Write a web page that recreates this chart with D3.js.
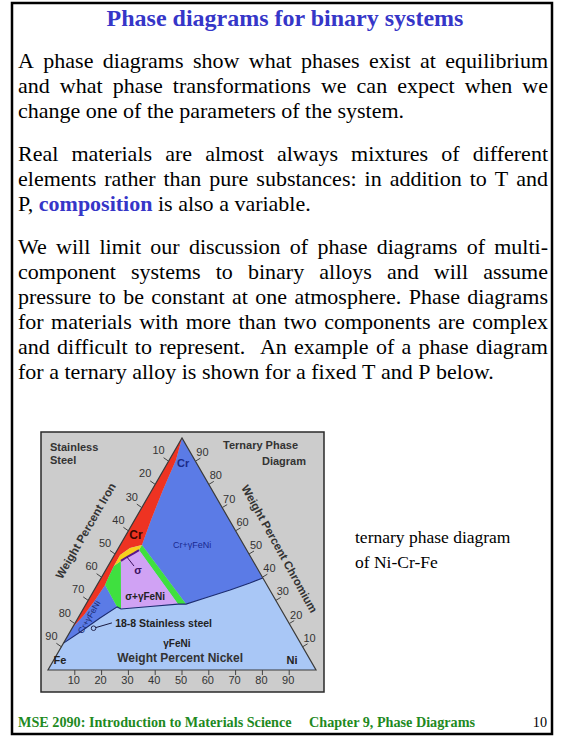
<!DOCTYPE html>
<html><head><meta charset="utf-8">
<script src="https://cdn.jsdelivr.net/npm/d3@7"></script>
<style>html,body{margin:0;padding:0;background:#fff;} svg{display:block;}</style>
</head><body>
<svg id="c" width="563" height="738"></svg>
<script>
// ---------------- slide text ----------------
const titleText = "Phase diagrams for binary systems";
const paragraphs = [
 ["A phase diagrams show what phases exist at equilibrium",
  "and what phase transformations we can expect when we",
  "change one of the parameters of the system."],
 ["Real materials are almost always mixtures of different",
  "elements rather than pure substances: in addition to T and",
  "P, *composition* is also a variable."],
 ["We will limit our discussion of phase diagrams of multi-",
  "component systems to binary alloys and will assume",
  "pressure to be constant at one atmosphere. Phase diagrams",
  "for materials with more than two components are complex",
  "and difficult to represent.  An example of a phase diagram",
  "for a ternary alloy is shown for a fixed T and P below."]
];
const caption = ["ternary phase diagram", "of Ni-Cr-Fe"];
const footerLeft = "MSE 2090: Introduction to Materials Science";
const footerMid = "Chapter 9, Phase Diagrams";
const footerPage = "10";

// ---------------- ternary diagram data: [Ni wt%, Cr wt%] ----------------
const tickValues = [10, 20, 30, 40, 50, 60, 70, 80, 90];
const axisTitles = ["Weight Percent Iron", "Weight Percent Chromium", "Weight Percent Nickel"];
const cornerLabels = ["Fe", "Ni", "Cr"];
const boxTitlesLeft = ["Stainless", "Steel"];
const boxTitlesRight = ["Ternary Phase", "Diagram"];

const regionRedCr = [[0,100],[0,18.1],[0.5,19.8],[1.6,23.7],[2.5,30.2],[3.0,36.6],[2.6,39.7],[2.2,44.8],[2.1,49.6],[4.3,52.6],[8.1,53.9],[6.1,64.7],[4.1,77.6],[2.5,90.5]];
const regionCrGamma = [[0,100],[60.3,39.7],[56.6,37.5],[50.7,34.5],[43.1,31.0],[37.3,28.4],[8.1,53.9],[6.1,64.7],[4.1,77.6],[2.5,90.5]];
const regionGreenRight = [[8.1,53.9],[37.3,28.4],[34.3,28.4],[8.1,51.7]];
const regionSigmaGamma = [[8.1,51.7],[34.3,28.4],[24.4,27.4],[14.1,26.3],[3.7,47.0],[5.1,48.7],[6.9,50.4]];
const regionYellow = [[8.1,53.9],[4.3,52.6],[2.1,49.6],[2.2,44.8],[3.7,47.0],[5.1,48.7],[6.9,50.4],[8.1,51.7]];
const regionGreenLeft = [[2.2,44.8],[3.7,47.0],[14.1,26.3],[12.2,27.2],[3.0,36.6],[2.6,39.7]];
const regionAlphaGamma = [[0,11.6],[0,18.1],[0.5,19.8],[1.6,23.7],[2.5,30.2],[3.0,36.6],[12.2,27.2],[8.2,22.4],[3.8,16.4]];
const gammaBoundary = [[0,11.6],[3.8,16.4],[8.2,22.4],[12.2,27.2],[14.1,26.3],[24.4,27.4],[34.3,28.4],[37.3,28.4],[43.1,31.0],[50.7,34.5],[56.6,37.5],[60.3,39.7]];
const sigmaLine = [[3.7,47.0],[5.1,48.7],[6.9,50.4],[8.1,51.7]];
const sigmaLeader = [[5.1,48.7],[9.7,44.8]];
const stainless188 = [8, 18];
const stainlessLeader = [[8,18],[13.7,20.3]];

const phaseLabels = ["Cr", "Cr", "Cr+\u03B3FeNi", "\u03C3+\u03B3FeNi", "\u03C3", "Cr+\u03B3FeNi", "18-8 Stainless steel", "\u03B3FeNi", "Weight Percent Nickel"];
const phaseLabelPos = [[5.8,89.2],[3.7,58.2],[26.8,53.9],[20.5,31.5],[12.0,43.1],[3.9,22.8],[14.9,20.3],[42.3,11.6],[46.7,5.2]];

// ---------------- drawing ----------------
const svg = d3.select("#c");
const SERIF = "'Liberation Serif','Times New Roman',serif";
const SANS = "'Liberation Sans',Arial,sans-serif";

svg.append("rect").attr("x",12).attr("y",3).attr("width",540).attr("height",731)
  .attr("fill","#fff").attr("stroke","#000").attr("stroke-width",2.5);

svg.append("text").attr("x",285).attr("y",26).attr("text-anchor","middle")
  .style("font-family",SERIF).style("font-size","24px").style("font-weight","bold")
  .attr("fill","#3636c8").text(titleText);

const LEFT = 18, RIGHT = 548, FS = 22;
function drawLine(str, y, justify){
  const g = svg.append("g");
  const toks = str.split(" ");
  const nodes = toks.map(tok => {
    const bold = /^\*.*\*$/.test(tok);
    const t = g.append("text").attr("y",y).text(tok.replace(/\*/g,""))
      .style("font-family",SERIF).style("font-size",FS+"px")
      .style("font-weight", bold ? "bold" : "normal")
      .attr("fill", bold ? "#3636c8" : "#000");
    return {t, w: t.node().getComputedTextLength()};
  });
  const sum = d3.sum(nodes, d => d.w);
  const gap = justify ? (RIGHT - LEFT - sum) / (nodes.length - 1) : FS * 0.25;
  let x = LEFT;
  nodes.forEach(n => { n.t.attr("x", x); x += n.w + gap; });
}
const paraStarts = [68, 161, 254];
paragraphs.forEach((p, pi) => {
  p.forEach((line, li) => drawLine(line, paraStarts[pi] + li*25, li < p.length - 1));
});

caption.forEach((c,i) => svg.append("text").attr("x",355).attr("y",543 + i*25)
  .style("font-family",SERIF).style("font-size","17.5px").text(c));

const fg = svg.append("g").style("font-family",SERIF).style("font-size","14.2px");
fg.append("text").attr("x",18).attr("y",727).attr("fill","#1f8a1f").style("font-weight","bold").text(footerLeft);
fg.append("text").attr("x",309).attr("y",727).attr("fill","#1f8a1f").style("font-weight","bold").text(footerMid);
fg.append("text").attr("x",547).attr("y",727).attr("text-anchor","end").attr("fill","#000").text(footerPage);

// ---- ternary diagram ----
svg.append("rect").attr("x",41).attr("y",432).attr("width",283).attr("height",260)
  .attr("fill","#cccccc").attr("stroke","#2a2a2a").attr("stroke-width",1.5);

const sx = d3.scaleLinear().domain([0,100]).range([48,316]);
const sy = d3.scaleLinear().domain([0,100]).range([670,438]);
const proj = d => [sx(d[0] + d[1]/2), sy(d[1])];
const closedLine = d3.line().x(d => proj(d)[0]).y(d => proj(d)[1]).curve(d3.curveLinearClosed);
const openLine = d3.line().x(d => proj(d)[0]).y(d => proj(d)[1]);

const D = svg.append("g");
const triangle = [[0,0],[100,0],[0,100]];
D.append("path").attr("d", closedLine(triangle)).attr("fill","#a9c7f6");
const fillRegion = (data, color) => D.append("path").attr("d", closedLine(data)).attr("fill", color);
fillRegion(regionCrGamma, "#5b7be6");
fillRegion(regionAlphaGamma, "#5b7be6");
fillRegion(regionRedCr, "#ee3322");
fillRegion(regionGreenRight, "#3fe03f");
fillRegion(regionGreenLeft, "#3fe03f");
fillRegion(regionSigmaGamma, "#d0a2f4");
fillRegion(regionYellow, "#f7cf1c");

D.append("path").attr("d", openLine(gammaBoundary)).attr("fill","none").attr("stroke","#1c2c70").attr("stroke-width",1.1);
D.append("path").attr("d", openLine(sigmaLine)).attr("fill","none").attr("stroke","#5a168a").attr("stroke-width",2);
D.append("path").attr("d", openLine(sigmaLeader)).attr("fill","none").attr("stroke","#3a1060").attr("stroke-width",1);
D.append("path").attr("d", openLine(stainlessLeader)).attr("fill","none").attr("stroke","#1a1a40").attr("stroke-width",1);
D.append("circle").attr("cx",proj(stainless188)[0]).attr("cy",proj(stainless188)[1]).attr("r",2.3)
  .attr("fill","#a9c7f6").attr("stroke","#1a1a40").attr("stroke-width",0.9);

D.append("path").attr("d", closedLine(triangle))
  .attr("fill","none").attr("stroke","#3a3a3a").attr("stroke-width",1.2);

// ticks
const T = svg.append("g").style("font-family",SANS).style("font-size","11px").attr("fill","#333");
tickValues.forEach(v => {
  // Iron (left edge): Fe = v -> Ni 0, Cr 100-v
  let p = proj([0, 100 - v]);
  T.append("line").attr("x1",p[0]).attr("y1",p[1]).attr("x2",p[0]-5).attr("y2",p[1]-3.5).attr("stroke","#444");
  T.append("text").attr("x",p[0]-10).attr("y",p[1]-11).attr("text-anchor","middle").attr("dominant-baseline","central").text(v);
  // Chromium (right edge)
  p = proj([100 - v, v]);
  T.append("line").attr("x1",p[0]).attr("y1",p[1]).attr("x2",p[0]+5).attr("y2",p[1]-3).attr("stroke","#444");
  T.append("text").attr("x",p[0]+7).attr("y",p[1]-9).attr("text-anchor","middle").attr("dominant-baseline","central").text(v);
  // Nickel (bottom)
  p = proj([v, 0]);
  T.append("line").attr("x1",p[0]).attr("y1",p[1]).attr("x2",p[0]).attr("y2",p[1]+5).attr("stroke","#444");
  T.append("text").attr("x",p[0]-1).attr("y",p[1]+10).attr("text-anchor","middle").attr("dominant-baseline","central").text(v);
});

// axis titles
const A = svg.append("g").style("font-family",SANS).style("font-size","11.5px").style("font-weight","bold").attr("fill","#333");
let pI = proj([0,52]);
A.append("text").attr("transform",`translate(${pI[0]-0.866*37},${pI[1]-0.5*37}) rotate(-60)`)
  .attr("text-anchor","middle").attr("dominant-baseline","central").text(axisTitles[0]);
let pC = proj([54,46]);
A.append("text").attr("transform",`translate(${pC[0]+0.866*29},${pC[1]-0.5*29}) rotate(61)`)
  .attr("text-anchor","middle").attr("dominant-baseline","central").text(axisTitles[1]);

// corner labels
const L = svg.append("g").style("font-family",SANS).attr("fill","#222");
[[2.3,4.3],[88.9,4.3]].forEach((c,i) => {
  const p = proj(c);
  L.append("text").attr("x",p[0]).attr("y",p[1]).attr("text-anchor","middle").attr("dominant-baseline","central")
    .style("font-size","11px").style("font-weight","bold").text(cornerLabels[i]);
});

// phase labels
const labelStyle = [
  {size:11, color:"#1a2a88", bold:true},
  {size:12, color:"#3a0800", bold:true},
  {size:9, color:"#1a2a90", bold:false},
  {size:10, color:"#222", bold:true},
  {size:11, color:"#3a1060", bold:true},
  {size:8.5, color:"#1a2a70", bold:false, rot:-60},
  {size:10.5, color:"#222", bold:true, anchor:"start"},
  {size:10, color:"#222", bold:true},
  {size:12, color:"#333", bold:true}
];
phaseLabels.forEach((t,i) => {
  const s = labelStyle[i], p = proj(phaseLabelPos[i]);
  L.append("text").attr("transform",`translate(${p[0]},${p[1]})` + (s.rot ? ` rotate(${s.rot})` : ""))
    .attr("text-anchor", s.anchor || "middle").attr("dominant-baseline","central")
    .style("font-size", s.size+"px").style("font-weight", s.bold ? "bold" : "normal")
    .attr("fill", s.color).text(t);
});

// box titles
const B = svg.append("g").style("font-family",SANS).style("font-size","11px").style("font-weight","bold").attr("fill","#333");
B.append("text").attr("x",50).attr("y",451).text(boxTitlesLeft[0]);
B.append("text").attr("x",50).attr("y",464).text(boxTitlesLeft[1]);
B.append("text").attr("x",223).attr("y",449).text(boxTitlesRight[0]);
B.append("text").attr("x",262).attr("y",465).text(boxTitlesRight[1]);
</script>
</body></html>
